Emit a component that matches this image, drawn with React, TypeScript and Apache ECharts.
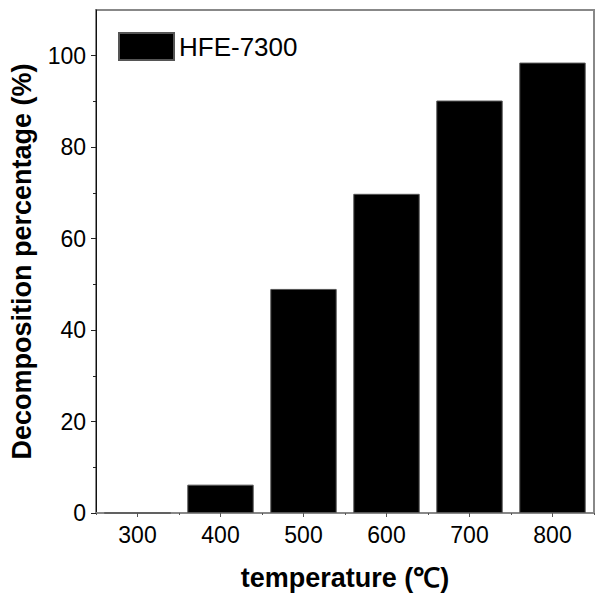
import React, { useEffect, useRef } from "react";
import * as echarts from "echarts";

const categories = ["300", "400", "500", "600", "700", "800"];
const seriesName = "HFE-7300";
const decomposition = [0, 6.2, 49.0, 69.8, 90.2, 98.5];
const yMajorTicks = [0, 20, 40, 60, 80, 100];
const yMinorTicks = [10, 30, 50, 70, 90];

const FONT = "'Liberation Sans', Arial, Helvetica, sans-serif";

export default function App() {
  const ref = useRef<HTMLDivElement>(null);
  useEffect(() => {
    if (!ref.current) return;
    const chart = echarts.init(ref.current, null, { renderer: "svg" });
    chart.setOption({
      animation: false,
      backgroundColor: "#ffffff",
      textStyle: { fontFamily: FONT },
      grid: {
        left: 92,
        right: 10,
        top: 10,
        bottom: 87,
        show: true,
        borderColor: "#888888",
        borderWidth: 2,
        backgroundColor: "transparent",
      },
      legend: {
        left: 118,
        top: 32,
        padding: 0,
        itemWidth: 55,
        itemHeight: 27,
        icon: "rect",
        textStyle: { fontSize: 26, color: "#000", fontFamily: FONT, lineHeight: 27 },
        data: [seriesName],
      },
      xAxis: [
        {
          type: "category",
          data: categories,
          position: "bottom",
          name: "temperature (℃)",
          nameLocation: "middle",
          nameGap: 51,
          nameTextStyle: { fontSize: 27, fontWeight: "bold", color: "#000", fontFamily: FONT },
          axisLine: { show: true, lineStyle: { color: "#888888", width: 2 } },
          axisTick: { show: true, alignWithLabel: false, length: 2, inside: false, lineStyle: { color: "#555", width: 1 } },
          axisLabel: { fontSize: 23, color: "#000", margin: 10, fontFamily: FONT },
          splitLine: { show: false },
        },
        {
          type: "category",
          data: categories,
          position: "bottom",
          axisLine: { show: false },
          axisTick: { show: true, alignWithLabel: true, length: 4, lineStyle: { color: "#555", width: 1 } },
          axisLabel: { show: false },
          splitLine: { show: false },
        },
      ],
      yAxis: [
        {
          type: "value",
          min: 0,
          max: 110,
          position: "left",
          name: "Decomposition percentage (%)",
          nameLocation: "middle",
          nameGap: 61,
          nameTextStyle: { fontSize: 27, fontWeight: "bold", color: "#000", fontFamily: FONT },
          axisLine: { show: true, lineStyle: { color: "#111", width: 1 } },
          axisTick: { show: true, customValues: yMajorTicks, length: 5, lineStyle: { color: "#222", width: 1 } },
          axisLabel: { customValues: yMajorTicks, fontSize: 23, color: "#000", margin: 10, fontFamily: FONT },
          splitLine: { show: false },
        },
        {
          type: "value",
          min: 0,
          max: 110,
          position: "left",
          axisLine: { show: false },
          axisTick: { show: true, customValues: yMinorTicks, length: 3, lineStyle: { color: "#222", width: 1 } },
          axisLabel: { show: false },
          splitLine: { show: false },
        },
      ],
      series: [
        {
          name: seriesName,
          type: "bar",
          xAxisIndex: 0,
          yAxisIndex: 0,
          data: decomposition,
          barWidth: "80%",
          itemStyle: { color: "#000000", borderColor: "#555555", borderWidth: 1 },
        },
      ],
    });
    return () => chart.dispose();
  }, []);
  return (
    <div
      ref={ref}
      style={{ position: "fixed", left: 0, top: 0, width: 604, height: 600 }}
    />
  );
}
